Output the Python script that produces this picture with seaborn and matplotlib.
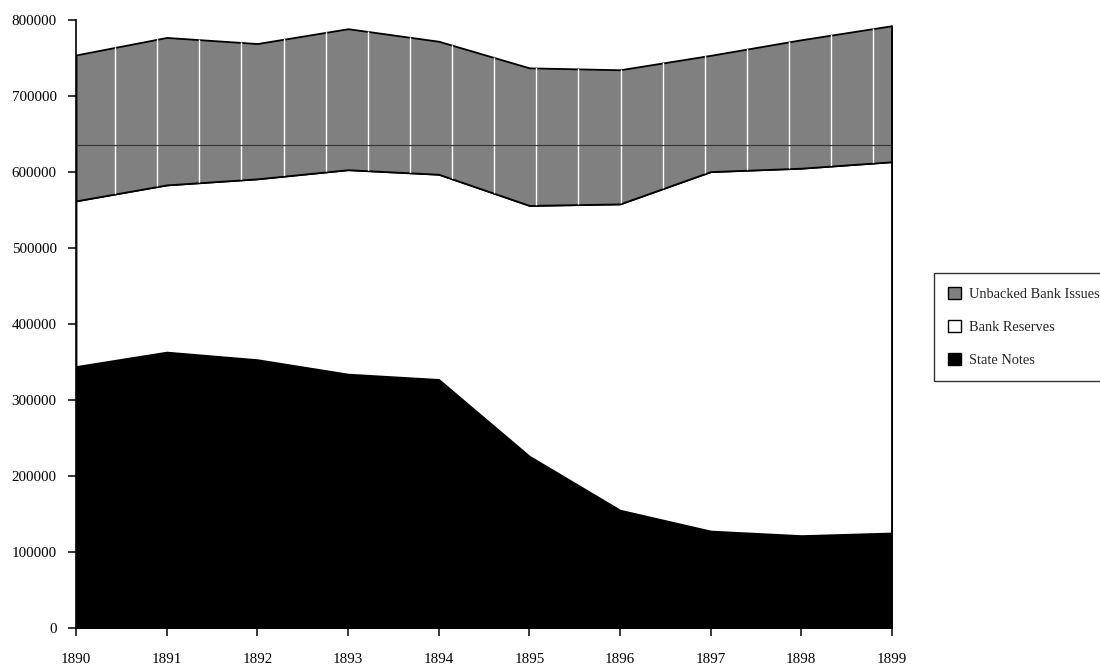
import numpy as np
import matplotlib
matplotlib.use("Agg")
import matplotlib.pyplot as plt
import seaborn as sns
from matplotlib.patches import Patch

years = [1890, 1891, 1892, 1893, 1894, 1895, 1896, 1897, 1898, 1899]
state_notes = [344000, 363000, 353000, 334000, 327000, 226000, 155000, 127500, 121500, 125000]
bank_reserves = [218000, 220000, 238000, 269000, 270000, 330000, 403000, 473000, 483500, 488500]
unbacked_issues = [192000, 194000, 178000, 185500, 175000, 181000, 176500, 153000, 169000, 179000]
ref_level = 636000

labels = ["State Notes", "Bank Reserves", "Unbacked Bank Issues"]
colors = ["#000000", "#ffffff", "#808080"]

sns.set_theme(style="white")
plt.rcParams["font.family"] = ["Liberation Serif", "DejaVu Serif"]

fig = plt.figure(figsize=(11, 6.66), dpi=100)
ax = fig.add_axes([0.0691, 0.0571, 0.7418, 0.9129])

polys = ax.stackplot(years, state_notes, bank_reserves, unbacked_issues,
                     colors=colors, edgecolor="black", linewidth=1.3)

# white vertical stripes inside the grey band
gray = polys[2]
xs = 1890.43 + 0.4647 * np.arange(19)
top = np.array(state_notes) + np.array(bank_reserves) + np.array(unbacked_issues)
stripes = ax.vlines(xs, 0, 820000, colors="white", linewidth=1.0, zorder=2.5)
stripes.set_clip_path(gray.get_paths()[0], transform=ax.transData)

ax.axhline(ref_level, color="#333333", linewidth=0.8, zorder=2.6)
ax.plot([years[-1], years[-1]], [0, top[-1]], color="black", linewidth=1.3, zorder=3)

ax.set_xlim(1890, 1899)
ax.set_ylim(0, 800000)
ax.set_xticks(years)
ax.set_yticks(range(0, 800001, 100000))
ax.set_xticklabels([str(y) for y in years])
ax.set_yticklabels([str(v) for v in range(0, 800001, 100000)])
ax.margins(0)

sns.despine(ax=ax, top=True, right=True)
for s in ["left", "bottom"]:
    ax.spines[s].set_color("black")
    ax.spines[s].set_linewidth(1.2)
ax.tick_params(axis="both", which="both", direction="out", length=6,
               width=1.1, color="black", labelsize=10.8, labelcolor="black",
               left=True, bottom=True)
ax.tick_params(axis="x", pad=12)
ax.tick_params(axis="y", pad=8)

handles = [Patch(facecolor=c, edgecolor="black", linewidth=1.0)
           for c in colors[::-1]]
leg = fig.legend(handles, labels[::-1], loc="upper left",
                 bbox_to_anchor=(934 / 1100, 1 - 273 / 666),
                 frameon=True, fancybox=False, fontsize=10.4,
                 handlelength=0.9, handleheight=0.9, handletextpad=0.5,
                 labelspacing=1.3, borderpad=1.0, borderaxespad=0)
leg.get_frame().set_edgecolor("black")
leg.get_frame().set_linewidth(1.0)
leg.get_frame().set_boxstyle("square", pad=0)

fig.savefig("out.png", dpi=100, facecolor="white")
